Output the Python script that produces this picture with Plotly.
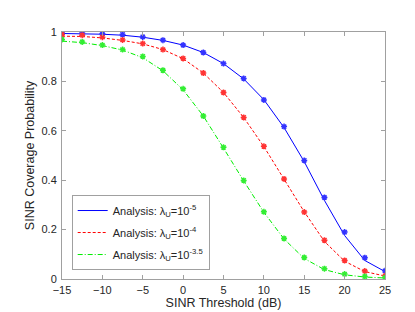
import plotly.graph_objects as go

x_vals = [-15, -12.5, -10, -7.5, -5, -2.5, 0, 2.5, 5, 7.5, 10, 12.5, 15, 17.5, 20, 22.5, 25]

ana_1e5 = [0.994, 0.993, 0.991, 0.987, 0.979, 0.966, 0.947, 0.917, 0.872, 0.810, 0.726, 0.613, 0.475, 0.318, 0.176, 0.075, 0.030]
sim_1e5 = [0.996, 0.996, 0.993, 0.990, 0.980, 0.967, 0.947, 0.917, 0.872, 0.812, 0.725, 0.617, 0.480, 0.330, 0.190, 0.086, 0.033]

ana_1e4 = [0.983, 0.982, 0.976, 0.966, 0.952, 0.929, 0.892, 0.834, 0.755, 0.654, 0.536, 0.405, 0.272, 0.152, 0.072, 0.030, 0.012]
sim_1e4 = [0.990, 0.987, 0.979, 0.968, 0.953, 0.929, 0.893, 0.834, 0.755, 0.654, 0.537, 0.405, 0.271, 0.157, 0.075, 0.032, 0.013]

ana_1e35 = [0.963, 0.957, 0.945, 0.927, 0.896, 0.843, 0.766, 0.660, 0.530, 0.397, 0.270, 0.162, 0.083, 0.038, 0.017, 0.008, 0.004]
sim_1e35 = [0.970, 0.960, 0.947, 0.929, 0.901, 0.845, 0.770, 0.660, 0.533, 0.399, 0.272, 0.164, 0.087, 0.042, 0.020, 0.010, 0.005]

legend_names = [
    "Analysis: λ<sub>U</sub>=10<sup>-5</sup>",
    "Analysis: λ<sub>U</sub>=10<sup>-4</sup>",
    "Analysis: λ<sub>U</sub>=10<sup>-3.5</sup>",
]

colors = ["#0000ff", "#ff0000", "#00ee00"]
dashes = ["solid", "3px,2px", "5px,2px,1px,2px"]
marker_colors = ["#3333ff", "#ff3333", "#33ee33"]

fig = go.Figure()
for i, (ana, name, c, d) in enumerate(zip([ana_1e5, ana_1e4, ana_1e35], legend_names, colors, dashes)):
    fig.add_trace(go.Scatter(x=x_vals, y=ana, mode="lines", name=name, legendgroup=f"g{i}",
                             line=dict(color=c, width=1, dash=d)))
for sim, c in zip([sim_1e5, sim_1e4, sim_1e35], marker_colors):
    fig.add_trace(go.Scatter(x=x_vals, y=sim, mode="markers", showlegend=False,
                             marker=dict(symbol="asterisk-open", size=5, color=c,
                                         line=dict(color=c, width=1.5))))

axis_common = dict(showline=True, linecolor="#a0a0a0", linewidth=1, mirror="ticks",
                   ticks="inside", ticklen=4, tickcolor="#a0a0a0", showgrid=False,
                   zeroline=False, tickfont=dict(size=11, color="#262626"))

fig.update_layout(
    width=415, height=312,
    margin=dict(l=54, r=38, t=24, b=36),
    paper_bgcolor="white", plot_bgcolor="white",
    font=dict(family="Liberation Sans, Arial, sans-serif", size=11, color="#262626"),
    xaxis=dict(range=[-15, 25], tickmode="array", tickvals=[-15, -10, -5, 0, 5, 10, 15, 20, 25],
               ticklabelstandoff=1,
               title=dict(text="SINR Threshold (dB)", font=dict(size=12.5), standoff=3), **axis_common),
    yaxis=dict(range=[0, 1], tickmode="array", tickvals=[0, 0.2, 0.4, 0.6, 0.8, 1],
               ticktext=["0", "0.2", "0.4", "0.6", "0.8", "1"], ticklabelstandoff=2,
               title=dict(text="SINR Coverage Probability", font=dict(size=12.5), standoff=4), **axis_common),
    legend=dict(x=0.03, y=0.34, xanchor="left", yanchor="top",
                bordercolor="#a0a0a0", borderwidth=1, bgcolor="white",
                font=dict(size=11, color="#262626"), itemwidth=30,
                tracegroupgap=3),
)

fig.write_html("out.html")
